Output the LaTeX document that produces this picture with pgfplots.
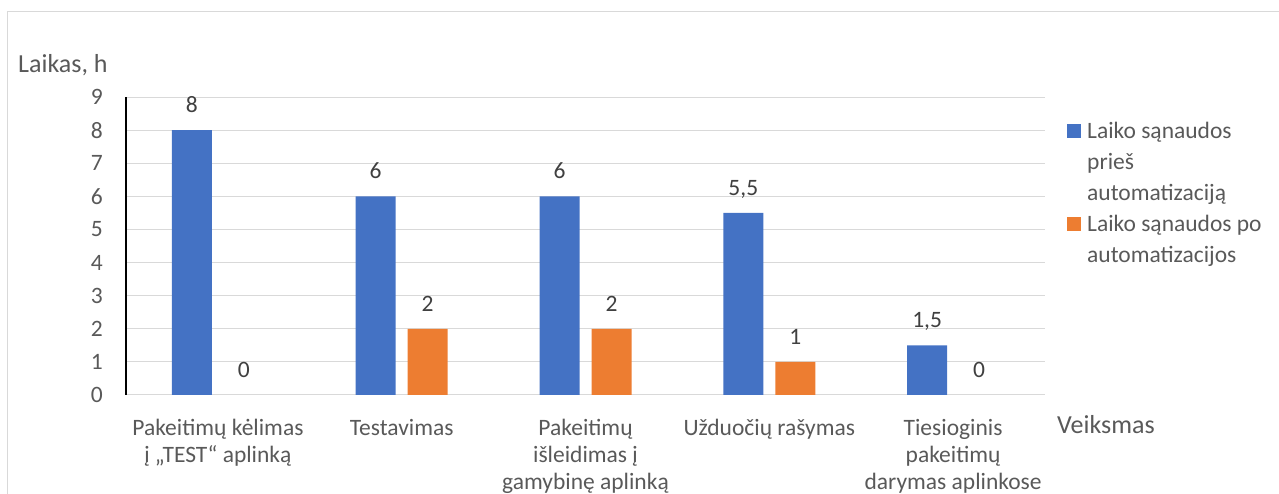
\documentclass[border=0pt]{standalone}
\usepackage{fontspec}
\setmainfont{Carlito}
\usepackage{pgfplots}
\pgfplotsset{compat=1.18}
\definecolor{xblue}{HTML}{4472C4}
\definecolor{xorange}{HTML}{ED7D31}
\definecolor{xgrid}{HTML}{D9D9D9}
\definecolor{xtext}{HTML}{595959}
\definecolor{xlab}{HTML}{404040}
\newcommand{\tl}[1]{\begin{tabular}[t]{@{}c@{}}#1\end{tabular}}
\begin{document}
\begin{tikzpicture}
\path[use as bounding box] (0,0) rectangle (1279pt,494pt);
\draw[xgrid, line width=1pt] (7.5pt,-30pt) rectangle (1310pt,482pt);
\begin{axis}[
  at={(126pt,99pt)}, anchor=south west,
  scale only axis, width=919pt, height=298pt,
  ybar, bar width=40pt,
  xmin=-0.5, xmax=4.5, ymin=0, ymax=9,
  xtick={0,...,4},
  xticklabels={{\tl{Pakeitimų kėlimas\\į „TEST“ aplinką}},{\tl{Testavimas}},{\tl{Pakeitimų\\išleidimas į\\gamybinę aplinką}},{\tl{Užduočių rašymas}},{\tl{Tiesioginis\\pakeitimų\\darymas aplinkose}}},
  ytick={0,...,9},
  ymajorgrids, major grid style={xgrid, line width=1pt},
  major tick length=0pt,
  axis lines*=left,
  x axis line style={draw=none},
  y axis line style={black, line width=1.3pt},
  tick label style={font=\fontsize{23.5}{27}\selectfont, text=xtext, inner sep=0pt},
  /pgf/number format/assume math mode=true,
  xticklabel style={anchor=base, yshift=-41pt},
  yticklabel style={anchor=east, xshift=-23pt},
  nodes near coords={\pgfmathprintnumber[use comma]{\pgfplotspointmeta}},
  every node near coord/.append style={font=\fontsize{23.5}{27}\selectfont, text=xlab, anchor=base, yshift=17.5pt, inner sep=0pt},
  ylabel={Laikas, h},
  ylabel style={rotate=-90, at={(rel axis cs:0,1)}, anchor=base west, xshift=-108pt, yshift=25pt, inner sep=0pt, font=\fontsize{26}{31}\selectfont, text=xtext},
  xlabel={Veiksmas},
  xlabel style={at={(rel axis cs:1,0)}, anchor=base west, xshift=12pt, yshift=-39pt, inner sep=0pt, font=\fontsize{26}{31}\selectfont, text=xtext},
  legend style={at={(rel axis cs:1,1)}, anchor=north west, xshift=22pt, yshift=-21pt, draw=none, fill=none, inner sep=0pt, row sep=0pt, column sep=6pt, font=\fontsize{23.5}{29}\selectfont, text=xtext, nodes={inner sep=0pt, anchor=base west, text height=20pt, text depth=11pt}},
  legend image code/.code={\fill[#1] (0pt,0pt) rectangle (14pt,14pt);},
]
\addplot[fill=xblue, draw=none, bar shift=-26pt] coordinates {(0,8) (1,6) (2,6) (3,5.5) (4,1.5)};
\addlegendentry{Laiko sąnaudos}
\addlegendimage{empty legend}
\addlegendentry{prieš}
\addlegendimage{empty legend}
\addlegendentry{automatizaciją}
\addplot[fill=xorange, draw=none, bar shift=26pt] coordinates {(1,2) (2,2) (3,1)};
\addlegendentry{Laiko sąnaudos po}
\addlegendimage{empty legend}
\addlegendentry{automatizacijos}
\addplot[forget plot, draw=none, fill=none, bar shift=26pt] coordinates {(0,0) (4,0)};
\end{axis}
\end{tikzpicture}
\end{document}
